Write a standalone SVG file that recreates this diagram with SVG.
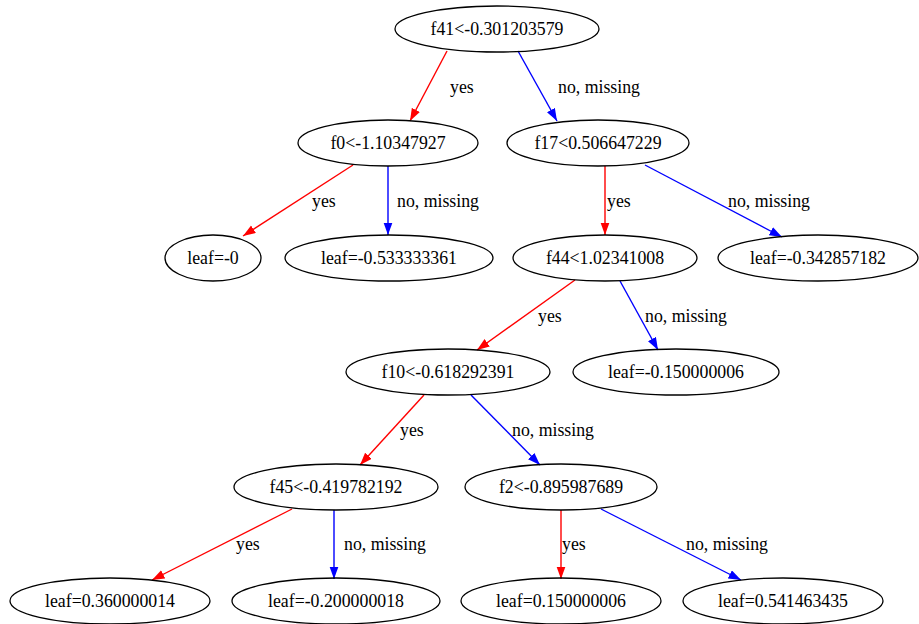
<svg xmlns="http://www.w3.org/2000/svg" width="919" height="624" viewBox="0 0 919 624">
  <style>
    .node ellipse { fill: none; stroke: #000; stroke-width: 1.3; }
    text { font-family: "Liberation Serif", "Times New Roman", serif; font-size: 17.8px; fill: #000; }
    .node text { text-anchor: middle; }
    .yes { stroke: #ff0000; stroke-width: 1.4; fill: none; marker-end: url(#arrRed); }
    .no { stroke: #0000ff; stroke-width: 1.4; fill: none; marker-end: url(#arrBlue); }
  </style>
  <defs>
    <marker id="arrRed" markerUnits="userSpaceOnUse" markerWidth="13" markerHeight="10" refX="12.5" refY="4.5" orient="auto">
      <path d="M0,0 L12.5,4.5 L0,9 z" fill="#ff0000"/>
    </marker>
    <marker id="arrBlue" markerUnits="userSpaceOnUse" markerWidth="13" markerHeight="10" refX="12.5" refY="4.5" orient="auto">
      <path d="M0,0 L12.5,4.5 L0,9 z" fill="#0000ff"/>
    </marker>
  </defs>
  <rect width="919" height="624" fill="#fff"/>

  <!-- connectors -->
  <g id="edges">
    <line class="yes" x1="447" y1="51" x2="410" y2="121"/>
    <line class="no" x1="518" y1="51" x2="557" y2="121"/>
    <line class="yes" x1="353" y1="165" x2="243" y2="236"/>
    <line class="no" x1="388" y1="166" x2="388" y2="235"/>
    <line class="yes" x1="605" y1="166" x2="605" y2="235"/>
    <line class="no" x1="645" y1="165" x2="782" y2="237"/>
    <line class="yes" x1="575" y1="280" x2="477" y2="350"/>
    <line class="no" x1="620" y1="281" x2="658" y2="350"/>
    <line class="yes" x1="424" y1="395" x2="360" y2="465"/>
    <line class="no" x1="471" y1="395" x2="540" y2="465"/>
    <line class="yes" x1="292" y1="509" x2="152" y2="580"/>
    <line class="no" x1="334" y1="510" x2="334" y2="579"/>
    <line class="yes" x1="561" y1="510" x2="561" y2="579"/>
    <line class="no" x1="601" y1="509" x2="741" y2="580"/>
    <text x="450" y="93">yes</text>
    <text x="558" y="93">no, missing</text>
    <text x="312" y="207">yes</text>
    <text x="397" y="207">no, missing</text>
    <text x="607" y="207">yes</text>
    <text x="728" y="207">no, missing</text>
    <text x="538" y="322">yes</text>
    <text x="645" y="322">no, missing</text>
    <text x="400" y="436">yes</text>
    <text x="512" y="436">no, missing</text>
    <text x="236" y="550">yes</text>
    <text x="344" y="550">no, missing</text>
    <text x="562" y="550">yes</text>
    <text x="686" y="550">no, missing</text>
  </g>

  <g id="n0" class="node"><ellipse cx="497" cy="29" rx="102" ry="23"/><text x="497" y="35">f41&lt;-0.301203579</text></g>
  <g id="n1" class="node"><ellipse cx="388" cy="143" rx="90" ry="23"/><text x="388" y="149">f0&lt;-1.10347927</text></g>
  <g id="n2" class="node"><ellipse cx="598" cy="143" rx="91" ry="23"/><text x="598" y="149">f17&lt;0.506647229</text></g>
  <g id="n3" class="node"><ellipse cx="213" cy="258" rx="48" ry="23"/><text x="213" y="264">leaf=-0</text></g>
  <g id="n4" class="node"><ellipse cx="389" cy="258" rx="104" ry="23"/><text x="389" y="264">leaf=-0.533333361</text></g>
  <g id="n5" class="node"><ellipse cx="605" cy="258" rx="92" ry="23"/><text x="605" y="264">f44&lt;1.02341008</text></g>
  <g id="n6" class="node"><ellipse cx="818" cy="258" rx="100" ry="23"/><text x="818" y="264">leaf=-0.342857182</text></g>
  <g id="n7" class="node"><ellipse cx="448" cy="372" rx="102" ry="23"/><text x="448" y="378">f10&lt;-0.618292391</text></g>
  <g id="n8" class="node"><ellipse cx="676" cy="372" rx="103" ry="23"/><text x="676" y="378">leaf=-0.150000006</text></g>
  <g id="n9" class="node"><ellipse cx="336" cy="487" rx="102" ry="23"/><text x="336" y="493">f45&lt;-0.419782192</text></g>
  <g id="n10" class="node"><ellipse cx="561" cy="487" rx="96" ry="23"/><text x="561" y="493">f2&lt;-0.895987689</text></g>
  <g id="n11" class="node"><ellipse cx="110" cy="601" rx="100" ry="23"/><text x="110" y="607">leaf=0.360000014</text></g>
  <g id="n12" class="node"><ellipse cx="336" cy="601" rx="104" ry="23"/><text x="336" y="607">leaf=-0.200000018</text></g>
  <g id="n13" class="node"><ellipse cx="561" cy="601" rx="100" ry="23"/><text x="561" y="607">leaf=0.150000006</text></g>
  <g id="n14" class="node"><ellipse cx="783" cy="601" rx="100" ry="23"/><text x="783" y="607">leaf=0.541463435</text></g>
</svg>
